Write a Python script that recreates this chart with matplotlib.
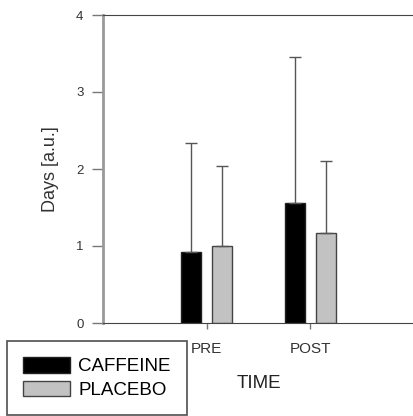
import matplotlib.pyplot as plt
import numpy as np

plt.rcParams['font.family'] = ['Liberation Sans', 'DejaVu Sans']

times = ["PRE", "POST"]
caffeine = [0.92, 1.56]
caffeine_sd = [1.42, 1.90]
placebo = [1.00, 1.17]
placebo_sd = [1.04, 0.93]

fig = plt.figure(figsize=(4.13, 4.16), dpi=100)
# axes placed in pixels: left 103, right 414, bottom 323 (from top), top 15
ax = fig.add_axes([103/413, (416-323)/416, 311/413, (323-15)/416])

x = np.arange(1, len(times)+1)
w = 0.19
off = 0.15
err_kw = dict(ecolor="#555555", elinewidth=1.0, capsize=4.5, capthick=1.0)
ax.bar(x-off, caffeine, w, color="black", edgecolor="#222222", linewidth=1,
       yerr=[np.zeros(2), caffeine_sd], error_kw=err_kw, label="CAFFEINE")
ax.bar(x+off, placebo, w, color="#c2c2c2", edgecolor="#444444", linewidth=1,
       yerr=[np.zeros(2), placebo_sd], error_kw=err_kw, label="PLACEBO")

ax.set_xlim(0, 3)
ax.set_ylim(0, 4)
ax.set_yticks([0, 1, 2, 3, 4])
ax.set_xticks(x)
ax.set_xticklabels(times, fontsize=11, color="#333333")
ax.tick_params(axis='y', direction='out', length=8, width=1, color="#777777",
               labelsize=9.5, labelcolor="#333333", pad=6)
ax.tick_params(axis='x', direction='out', length=4, width=1, color="#777777", pad=10)
ax.spines['right'].set_visible(False)
ax.spines['left'].set_color("#999999")
ax.spines['left'].set_linewidth(2)
ax.spines['bottom'].set_color("#444444")
ax.spines['top'].set_color("#444444")

ax.set_ylabel("Days [a.u.]", fontsize=13, color="#333333", labelpad=12)
ax.set_xlabel("TIME", fontsize=13.5, color="#222222", labelpad=13)

leg = fig.legend(loc='lower left', bbox_to_anchor=(7/413, 1/416), fontsize=13.5,
                 frameon=True, fancybox=False, handlelength=2.5, handleheight=0.9,
                 labelspacing=0.3, borderpad=0.85, handletextpad=0.45, borderaxespad=0)
leg.get_frame().set_edgecolor("#222222")
leg.get_frame().set_linewidth(1.2)

fig.savefig("out.png", dpi=100)
